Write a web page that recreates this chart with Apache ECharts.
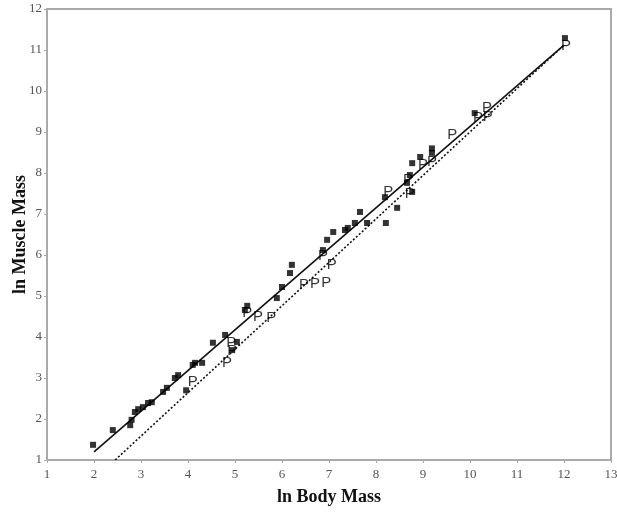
<!DOCTYPE html>
<html>
<head>
<meta charset="utf-8">
<script src="https://cdn.jsdelivr.net/npm/echarts@6/dist/echarts.min.js"></script>
<style>
  html, body { margin: 0; padding: 0; background: #fff; }
  #chart { width: 617px; height: 516px; }
</style>
</head>
<body>
<div id="chart"></div>
<script>
// black squares
var squarePoints = [
    [1.98, 1.37], [2.4, 1.73], [2.77, 1.85], [2.8, 1.98], [2.87, 2.17],
    [2.94, 2.24], [3.04, 2.29], [3.15, 2.39], [3.23, 2.41], [3.47, 2.66],
    [3.55, 2.76], [3.72, 3.0], [3.79, 3.07], [3.96, 2.7], [4.1, 3.32],
    [4.15, 3.37], [4.3, 3.37], [4.53, 3.86], [4.79, 4.05], [4.94, 3.68],
    [5.04, 3.88], [5.21, 4.66], [5.26, 4.76], [5.89, 4.95], [6.0, 5.22],
    [6.17, 5.56], [6.21, 5.76], [6.87, 6.12], [6.96, 6.37], [7.09, 6.56],
    [7.34, 6.61], [7.4, 6.66], [7.55, 6.78], [7.66, 7.05], [7.81, 6.78],
    [8.21, 6.78], [8.19, 7.41], [8.45, 7.15], [8.66, 7.76], [8.72, 7.95],
    [8.77, 8.24], [8.77, 7.54], [8.94, 8.39], [9.19, 8.49], [9.19, 8.6],
    [10.1, 9.46], [12.02, 11.29]
];

// "P" points
var pPoints = [
    [4.1, 2.9], [4.83, 3.38], [4.94, 3.66], [4.92, 3.86], [5.26, 4.59],
    [5.49, 4.49], [5.77, 4.46], [6.47, 5.27], [6.7, 5.3], [6.94, 5.33],
    [6.87, 5.97], [7.06, 5.76], [8.26, 7.54], [8.68, 7.83], [8.72, 7.5],
    [9.0, 8.2], [9.19, 8.26], [9.62, 8.93], [10.17, 9.34], [10.36, 9.59],
    [10.38, 9.37], [12.04, 11.1]
];

var solidLine = [[2, 1.2], [12, 11.12]];
var dashedLine = [[2.45, 1], [12, 11.12]];

var xTicks = { min: 1, max: 13, interval: 1 };
var yTicks = { min: 1, max: 12, interval: 1 };

var chart = echarts.init(document.getElementById('chart'));

var axisCommon = {
    axisLine: { show: true, lineStyle: { color: '#aaa', width: 2 } },
    axisTick: { show: true, inside: false, length: 3, lineStyle: { color: '#aaa' } },
    splitLine: { show: false },
    axisLabel: { color: '#555', fontFamily: 'Liberation Serif', fontSize: 13 },
    nameTextStyle: { color: '#111', fontFamily: 'Liberation Serif', fontSize: 18, fontWeight: 'bold' },
    nameLocation: 'middle',
    nameMoveOverlap: false
};

var option = {
    animation: false,
    grid: {
        left: 47, right: 6, top: 9, bottom: 56,
        containLabel: false,
        outerBoundsMode: 'none',
        show: true, borderColor: '#aaa', borderWidth: 2, backgroundColor: '#fff'
    },
    xAxis: Object.assign({}, axisCommon, {
        type: 'value',
        min: xTicks.min, max: xTicks.max, interval: xTicks.interval,
        name: 'ln Body Mass',
        nameGap: 28,
        axisLabel: Object.assign({}, axisCommon.axisLabel, { margin: 8 })
    }),
    yAxis: Object.assign({}, axisCommon, {
        type: 'value',
        min: yTicks.min, max: yTicks.max, interval: yTicks.interval,
        name: 'ln Muscle Mass',
        nameGap: 18,
        axisLabel: Object.assign({}, axisCommon.axisLabel, { margin: 5 })
    }),
    series: [
        {
            type: 'line',
            data: solidLine,
            symbol: 'none',
            lineStyle: { color: '#111', width: 1.6 },
            z: 2
        },
        {
            type: 'line',
            data: dashedLine,
            symbol: 'none',
            lineStyle: { color: '#111', width: 1.6, type: [2, 2] },
            z: 2
        },
        {
            type: 'scatter',
            data: squarePoints,
            symbol: 'rect',
            symbolSize: 6,
            itemStyle: { color: '#000' },
            z: 3
        },
        {
            type: 'scatter',
            data: pPoints,
            symbolSize: 1,
            itemStyle: { color: 'rgba(0,0,0,0)' },
            label: {
                show: true,
                formatter: 'P',
                position: 'inside',
                color: '#000',
                fontFamily: 'Liberation Sans',
                fontSize: 15
            },
            z: 4
        }
    ]
};

chart.setOption(option);
</script>
</body>
</html>
